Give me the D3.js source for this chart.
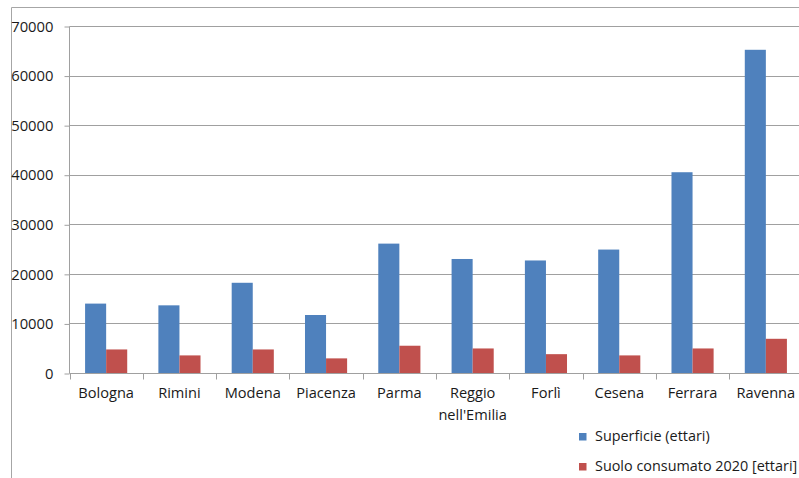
<!DOCTYPE html>
<html><head><meta charset="utf-8">
<script src="https://cdn.jsdelivr.net/npm/d3@7"></script>
<style>body{margin:0;background:#fff}svg{display:block}text{font-family:"Open Sans","Liberation Sans",sans-serif;fill:#1a1a1a}</style>
</head><body>
<svg id="c" width="799" height="478"></svg>
<script>
const categories = ["Bologna","Rimini","Modena","Piacenza","Parma","Reggio nell'Emilia","Forlì","Cesena","Ferrara","Ravenna"];
const superficie = [14000,13650,18200,11700,26100,23000,22700,24900,40500,65200];
const suolo = [4750,3550,4750,2950,5500,4950,3800,3550,4950,6900];
const seriesNames = ["Superficie (ettari)","Suolo consumato 2020 [ettari]"];
const yTicks = [0,10000,20000,30000,40000,50000,60000,70000];
const colors = ["#4f81bd","#c0504d"];

const svg = d3.select("#c");
// outer frame
svg.append("path").attr("d","M11.5,478V7.5H799").attr("fill","none").attr("stroke","#a6a6a6").attr("stroke-width",1);

const x = d3.scaleBand().domain(categories).range([69.5,802.5]).paddingInner(0).paddingOuter(0);
const y = d3.scaleLinear().domain([0,70000]).range([373,26]);
const xs = d3.scaleBand().domain([0,1]).range([0,x.bandwidth()]).paddingInner(0).paddingOuter(0.74);

// gridlines
svg.append("g").selectAll("line").data(yTicks.slice(1)).join("line")
  .attr("x1",69.5).attr("x2",799).attr("y1",d=>Math.round(y(d))+0.5).attr("y2",d=>Math.round(y(d))+0.5)
  .attr("stroke","#a0a0a0").attr("stroke-width",1);

// y axis
const ya = svg.append("g").attr("transform","translate(69.5,0.5)")
  .call(d3.axisLeft(y).tickValues(yTicks).tickSize(5).tickFormat(d3.format("d")));
ya.select(".domain").attr("stroke","#a0a0a0").attr("d","M0,"+y(70000)+"V"+y(0));
ya.selectAll(".tick line").attr("stroke","#a0a0a0");
ya.selectAll("text").attr("x",-16).attr("font-size",14.8).attr("fill","#1a1a1a").attr("font-family","'Open Sans','Liberation Sans',sans-serif");

// bars
const data = categories.map((c,i)=>({c, v:[superficie[i],suolo[i]]}));
const g = svg.append("g");
g.selectAll("g").data(data).join("g").attr("transform",d=>`translate(${x(d.c)},0)`)
  .selectAll("rect").data(d=>d.v.map((v,k)=>({v,k}))).join("rect")
  .attr("x",d=>xs(d.k)).attr("width",xs.bandwidth())
  .attr("y",d=>y(d.v)).attr("height",d=>y(0)-y(d.v))
  .attr("fill",d=>colors[d.k]);

// x axis
const xa = svg.append("g").attr("transform",`translate(0,${y(0)+0.5})`)
  .call(d3.axisBottom(x).tickSize(0).tickFormat(""));
xa.select(".domain").attr("stroke","#a0a0a0").attr("d","M69.5,0H799");
const edges = categories.map(c=>x(c)).concat([x.range()[1]]);
xa.selectAll(".edge").data(edges.filter(e=>e<799)).join("line").attr("class","edge")
  .attr("x1",d=>Math.round(d)+0.5).attr("x2",d=>Math.round(d)+0.5).attr("y1",0).attr("y2",6).attr("stroke","#a0a0a0");
const lab = svg.append("g");
categories.forEach(c=>{
  const parts = c==="Reggio nell'Emilia" ? ["Reggio","nell'Emilia"] : [c];
  parts.forEach((p,j)=>{
    lab.append("text").attr("x",x(c)+x.bandwidth()/2).attr("y",398+j*22)
      .attr("text-anchor","middle").attr("font-size",14.6).text(p);
  });
});

// legend
const lg = svg.append("g");
seriesNames.forEach((s,k)=>{
  lg.append("rect").attr("x",579).attr("y",433+k*30).attr("width",7.5).attr("height",7.5).attr("fill",colors[k]);
  lg.append("text").attr("x",595).attr("y",441+k*30).attr("font-size",14.4).text(s);
});
</script>
</body></html>
